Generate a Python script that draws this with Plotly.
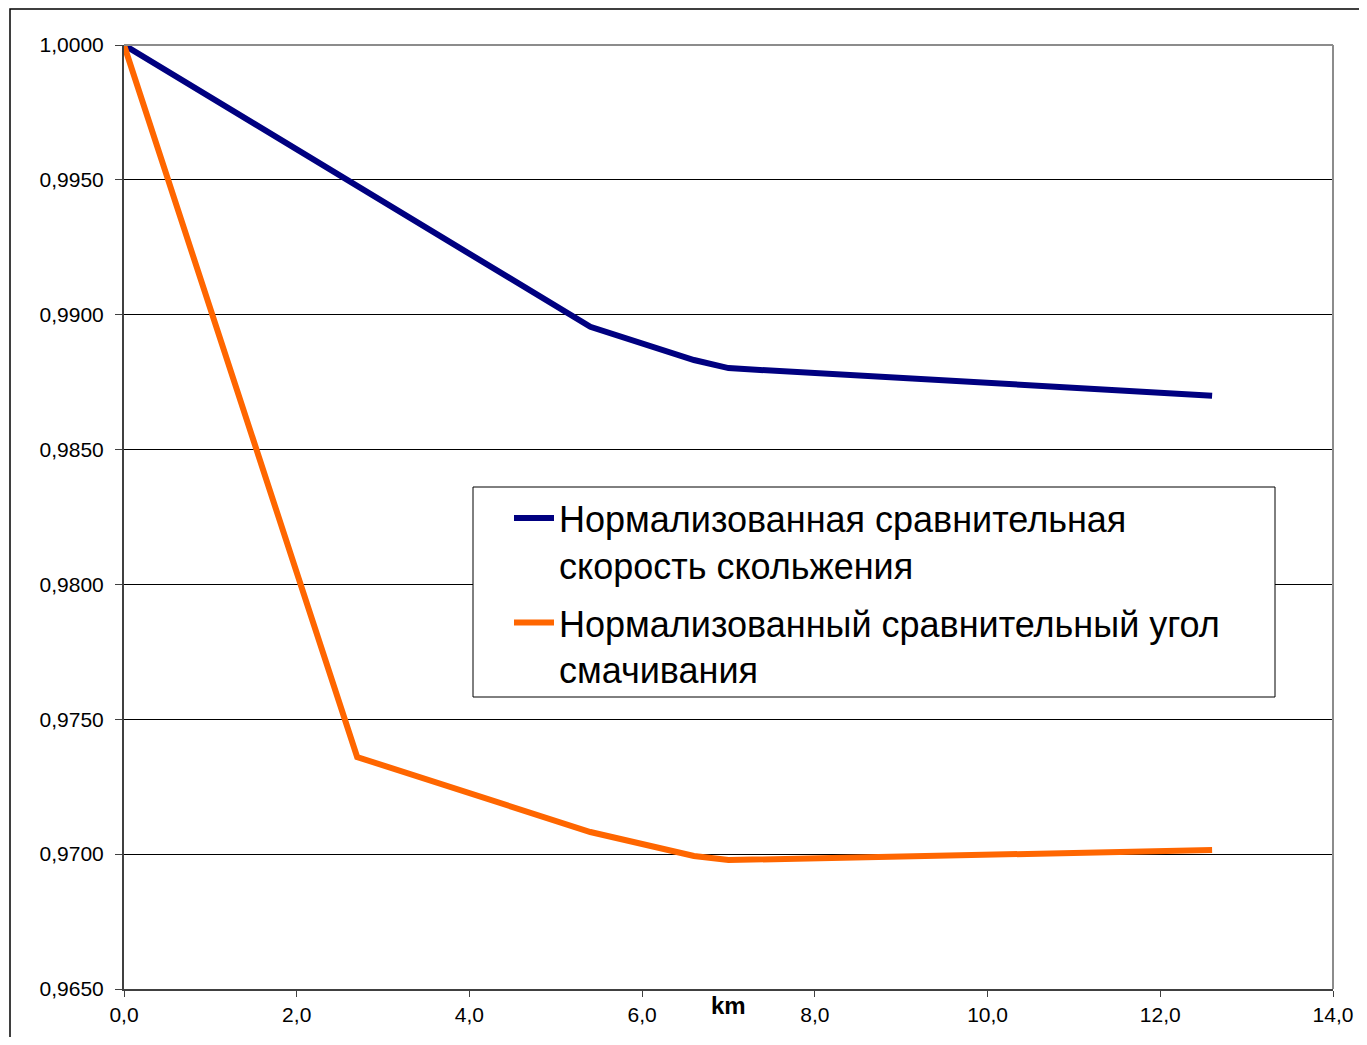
import plotly.graph_objects as go

km = [0.0, 2.7, 5.4, 6.6, 7.0, 12.6]
speed = [1.0000, 0.9948, 0.98955, 0.98832, 0.98802, 0.98700]
angle = [1.0000, 0.97360, 0.97082, 0.96993, 0.96978, 0.97015]
name_speed = "Нормализованная сравнительная<br>скорость скольжения"
name_angle = "Нормализованный сравнительный угол<br>смачивания"
xticks = [0, 2, 4, 6, 8, 10, 12, 14]
yticks = [0.965, 0.970, 0.975, 0.980, 0.985, 0.990, 0.995, 1.000]

# page is rendered with an 8px body margin
OFF = 8
W, H = 1367 - 2 * OFF, 1045 - 2 * OFF
PL, PR, PT, PB = 124, 1333, 45, 989       # plot area in page pixels
L, R, T, B = PL - OFF, W - (PR - OFF), PT - OFF, H - (PB - OFF)
pw, ph = PR - PL, PB - PT

FONT = "Liberation Sans, Arial, sans-serif"


def px(xp):
    return (xp - PL) / pw


def py(yp):
    return (PB - yp) / ph


fig = go.Figure()
fig.add_trace(go.Scatter(x=km, y=speed, mode="lines", name=name_speed,
                         legendgroup="g1",
                         line=dict(color="#000080", width=6)))
fig.add_trace(go.Scatter(x=km, y=angle, mode="lines", name=name_angle,
                         legendgroup="g2",
                         line=dict(color="#FF6600", width=6)))

fig.update_layout(
    width=W, height=H,
    margin=dict(l=L, r=R, t=T, b=B, autoexpand=False),
    paper_bgcolor="white", plot_bgcolor="white",
    separators=", ",
    font=dict(family=FONT, color="black", size=21),
    showlegend=True,
    legend=dict(x=px(509), y=py(488), xanchor="left", yanchor="top",
                bgcolor="rgba(0,0,0,0)", borderwidth=0,
                font=dict(size=36, family=FONT), tracegroupgap=8,
                valign="top", itemwidth=40),
    xaxis=dict(range=[0, 14], tickvals=xticks, tickformat=".1f",
               automargin=False,
               showgrid=False, zeroline=False, showline=True,
               linecolor="#404040", linewidth=2, ticks="outside",
               ticklen=6, tickcolor="#404040", tickfont=dict(size=21)),
    yaxis=dict(range=[0.965, 1.0], tickvals=yticks, tickformat=".4f",
               automargin=False, ticklabelstandoff=7,
               showgrid=True, gridcolor="black", gridwidth=1, zeroline=False,
               showline=True, linecolor="#404040", linewidth=2, ticks="outside",
               ticklen=7, tickcolor="#404040", tickfont=dict(size=21)),
    annotations=[dict(text="<b>km</b>", x=0.5, y=py(1005), xref="paper", yref="paper",
                      showarrow=False, font=dict(size=24, family=FONT),
                      xanchor="center", yanchor="middle")],
    shapes=[
        dict(type="line", xref="paper", yref="paper", x0=0, x1=1, y0=1, y1=1,
             line=dict(color="#8c8c8c", width=2)),
        dict(type="line", xref="paper", yref="paper", x0=1, x1=1, y0=0, y1=1,
             line=dict(color="#8c8c8c", width=2)),
        dict(type="rect", xref="paper", yref="paper", x0=px(10), x1=px(1375),
             y0=py(1060), y1=py(9), line=dict(color="black", width=1.5)),
        # legend frame
        dict(type="rect", xref="paper", yref="paper", layer="above",
             x0=px(473), x1=px(1275), y0=py(697), y1=py(487),
             fillcolor="white", line=dict(color="black", width=1)),
    ],
)

fig.write_html("out.html")
